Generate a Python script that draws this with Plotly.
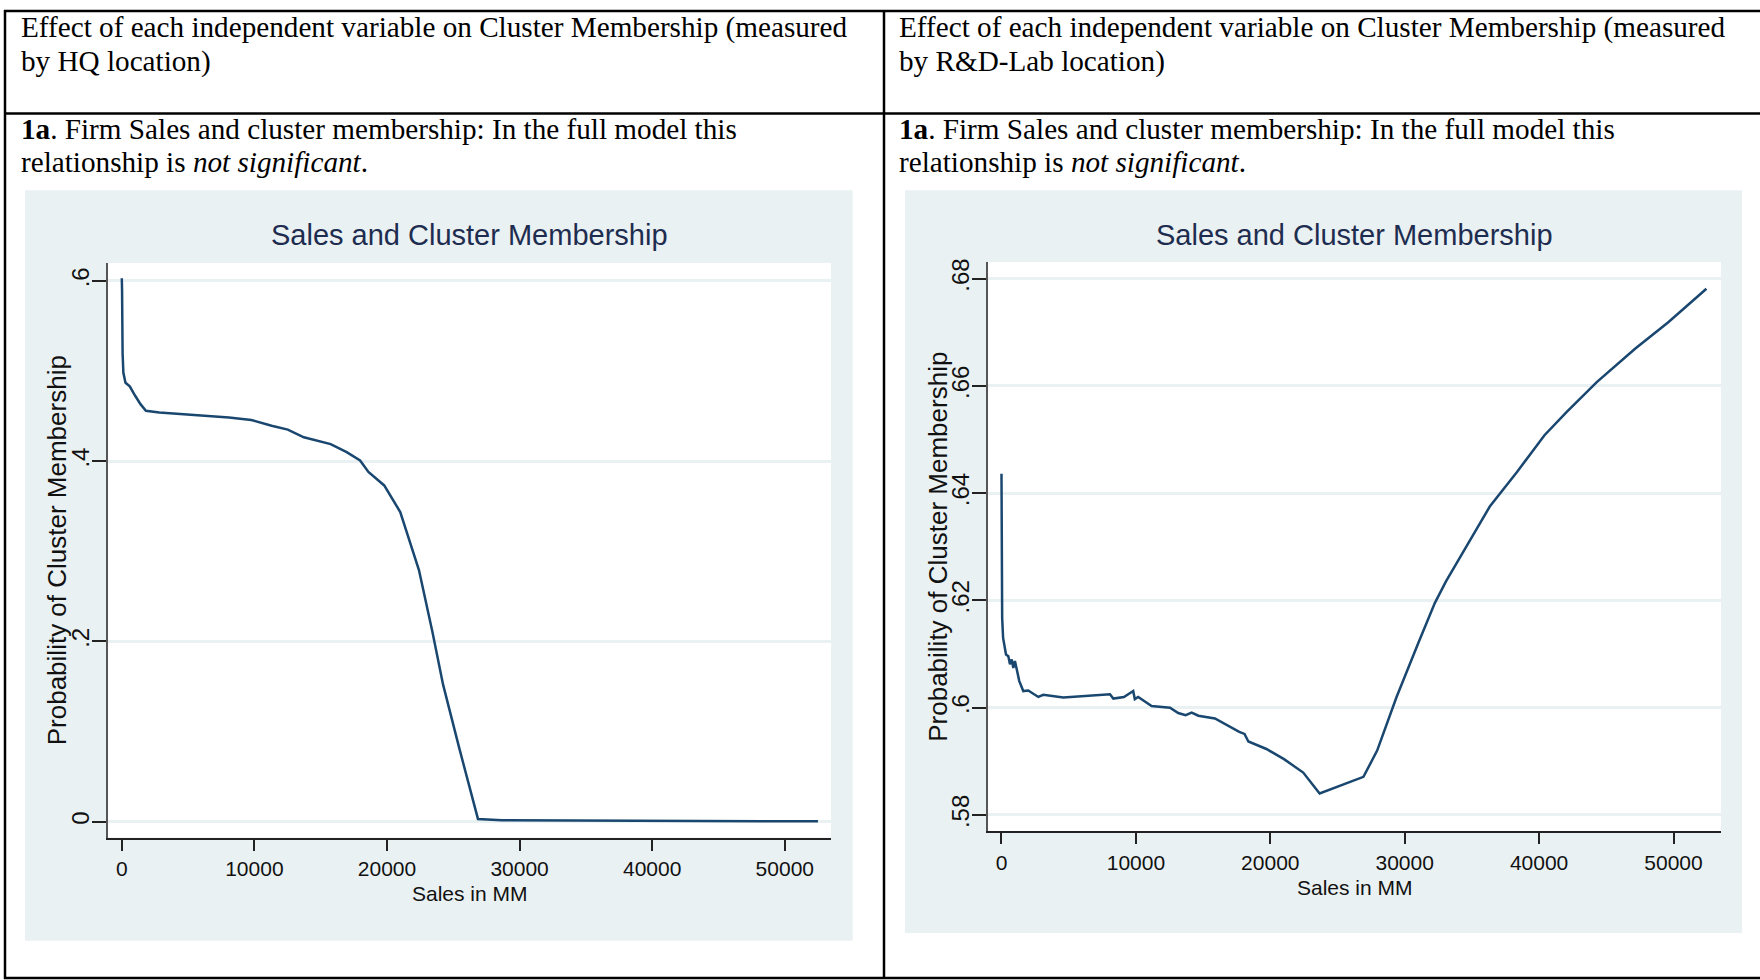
import plotly.graph_objects as go

# ---------------- data ----------------
hq_sales = [0, 20, 60, 120, 280, 600, 1010, 1410, 1820, 2830, 8080, 9770, 11300, 12520,
            13730, 15750, 16960, 17970, 18600, 19790, 21000, 22410, 23420, 24230, 25440,
            26860, 28670, 36740, 40500, 52500]
hq_prob = [0.603, 0.59, 0.52, 0.498, 0.487, 0.483, 0.4726, 0.4633, 0.456, 0.4541, 0.4486,
           0.4457, 0.4394, 0.435, 0.4265, 0.419, 0.41, 0.4008, 0.388, 0.3731, 0.3436, 0.2792,
           0.211, 0.152, 0.0821, 0.003, 0.0015, 0.0012, 0.0005, 0.0003]

rd_sales = [0, 20, 50, 120, 335, 510, 630, 760, 880, 1000, 1180, 1320, 1620, 1990, 2740,
            3110, 4600, 8070, 8320, 9110, 9800, 9920, 10170, 11170, 12540, 13150, 13700,
            14150, 14650, 15880, 17690, 18080, 18370, 19710, 21020, 22450, 23670, 26930,
            27950, 29380, 31020, 32240, 33060, 34490, 36330, 38370, 40400, 42040, 44290,
            47140, 49590, 52450]
rd_prob = [0.6436, 0.628, 0.6167, 0.613, 0.6099, 0.6096, 0.6081, 0.609, 0.6074, 0.6087,
           0.6068, 0.605, 0.6031, 0.6032, 0.602, 0.6024, 0.6019, 0.6025, 0.6017, 0.602,
           0.6031, 0.6016, 0.602, 0.6003, 0.6, 0.599, 0.5986, 0.5991, 0.5985, 0.598, 0.5955,
           0.5951, 0.5937, 0.5923, 0.5904, 0.5879, 0.584, 0.5871, 0.592, 0.6019, 0.6121,
           0.6195, 0.6235, 0.6297, 0.6375, 0.644, 0.6508, 0.6551, 0.6607, 0.6669, 0.6718,
           0.6781]

x_tickvals = [0, 10000, 20000, 30000, 40000, 50000]
x_ticktext = ["0", "10000", "20000", "30000", "40000", "50000"]
hq_yvals = [0, 0.2, 0.4, 0.6]
hq_ytext = ["0", ".2", ".4", ".6"]
rd_yvals = [0.58, 0.6, 0.62, 0.64, 0.66, 0.68]
rd_ytext = [".58", ".6", ".62", ".64", ".66", ".68"]

header_left = ["Effect of each independent variable on Cluster Membership (measured",
               "by HQ location)"]
header_right = ["Effect of each independent variable on Cluster Membership (measured",
                "by R&amp;D-Lab location)"]
note_lines = ["<b>1a</b>. Firm Sales and cluster membership: In the full model this",
              "relationship is <i>not significant</i>."]
chart_title = "Sales and Cluster Membership"
x_title = "Sales in MM"
y_title = "Probability of Cluster Membership"

# ---------------- layout helpers ----------------
W, H = 1760, 980
def px(x):
    return x / W
def py(y):
    return 1 - y / H

NAVY = "#1A476F"
PANEL_BG = "#EAF1F3"
GRID = "#EAF1F3"
SANS = "Liberation Sans, Arial, sans-serif"
SERIF = "Liberation Serif, Times New Roman, serif"

fig = go.Figure()
fig.add_trace(go.Scatter(x=hq_sales, y=hq_prob, mode="lines",
                         line=dict(color=NAVY, width=2.5), xaxis="x", yaxis="y",
                         showlegend=False, hoverinfo="skip"))
fig.add_trace(go.Scatter(x=rd_sales, y=rd_prob, mode="lines",
                         line=dict(color=NAVY, width=2.5), xaxis="x2", yaxis="y2",
                         showlegend=False, hoverinfo="skip"))

# plot-area boxes (pixel)
L = dict(x0=108, x1=831, y0=260, y1=837)
R = dict(x0=988, x1=1721, y0=259, y1=830.7)

def xaxis_cfg(box, rng):
    return dict(domain=[px(box["x0"]), px(box["x1"])], range=rng,
                tickvals=x_tickvals, ticktext=x_ticktext, ticks="outside", ticklen=11,
                tickwidth=1.5, tickcolor="#222", showline=True, linecolor="#222",
                linewidth=2, showgrid=False, zeroline=False,
                tickfont=dict(family=SANS, size=21, color="#111"), fixedrange=True)

def yaxis_cfg(box, rng, vals, text, anchor):
    return dict(domain=[py(box["y1"]), py(box["y0"])], range=rng, anchor=anchor,
                tickvals=vals, ticktext=text, ticks="outside", ticklen=14, tickwidth=1.5,
                tickcolor="#222", showline=True, linecolor="#555", linewidth=2,
                showgrid=True, gridcolor=GRID, gridwidth=3, zeroline=False,
                tickangle=-90, ticklabelstandoff=-7,
                tickfont=dict(family=SANS, size=24, color="#111"),
                fixedrange=True)

shapes = []
# panel backgrounds and white plot regions
for bg, box in ((dict(x0=25, x1=852.7, y0=187, y1=940.7), L),
                (dict(x0=905, x1=1742, y0=187, y1=932.7), R)):
    shapes.append(dict(type="rect", xref="paper", yref="paper", layer="below",
                       x0=px(bg["x0"]), x1=px(bg["x1"]), y0=py(bg["y1"]), y1=py(bg["y0"]),
                       fillcolor=PANEL_BG, line=dict(width=0)))
    shapes.append(dict(type="rect", xref="paper", yref="paper", layer="below",
                       x0=px(box["x0"]), x1=px(box["x1"]), y0=py(box["y1"]), y1=py(box["y0"]),
                       fillcolor="white", line=dict(width=0)))

# table lines
def hline(y, x0, x1):
    shapes.append(dict(type="line", xref="paper", yref="paper", x0=px(x0), x1=px(x1),
                       y0=py(y), y1=py(y), line=dict(color="black", width=2.5)))
def vline(x, y0, y1):
    shapes.append(dict(type="line", xref="paper", yref="paper", x0=px(x), x1=px(x),
                       y0=py(y0), y1=py(y1), line=dict(color="black", width=2.5)))
hline(7, 4, 1760)
hline(110, 4, 1760)
hline(978, 4, 1760)
vline(5, 6, 979)
vline(884, 6, 979)

annotations = []
def text(x, y, s, font, xanchor="left", yanchor="middle", angle=0):
    annotations.append(dict(x=px(x), y=py(y), xref="paper", yref="paper", text=s,
                            showarrow=False, xanchor=xanchor, yanchor=yanchor,
                            textangle=angle, font=font))

serif = dict(family=SERIF, size=29.2, color="black")
for i, s in enumerate(header_left):
    text(19, 24 + 34 * i, s, serif)
for i, s in enumerate(header_right):
    text(897, 24 + 34 * i, s, serif)
for x0 in (19, 897):
    for i, s in enumerate(note_lines):
        text(x0, 125.5 + 33.5 * i, s, serif)

title_font = dict(family=SANS, size=29, color="#1E2D4F")
axis_title_font = dict(family=SANS, size=21, color="#111")
ytitle_font = dict(family=SANS, size=26, color="#111")

text(469.5, 232, chart_title, title_font, xanchor="center")
text(1354.5, 232, chart_title, title_font, xanchor="center")
text(470, 893, x_title, axis_title_font, xanchor="center")
text(1355, 887, x_title, axis_title_font, xanchor="center")
text(57, 548.5, y_title, ytitle_font, xanchor="center", angle=-90)
text(938, 545, y_title, ytitle_font, xanchor="center", angle=-90)

fig.update_layout(
    width=W, height=H, margin=dict(l=0, r=0, t=0, b=0, pad=0),
    paper_bgcolor="white", plot_bgcolor="rgba(0,0,0,0)",
    xaxis=xaxis_cfg(L, [-1040, 53484]) | dict(anchor="y"),
    yaxis=yaxis_cfg(L, [-0.0177, 0.62], hq_yvals, hq_ytext, "x"),
    xaxis2=xaxis_cfg(R, [-1004, 53534]) | dict(anchor="y2"),
    yaxis2=yaxis_cfg(R, [0.57695, 0.6831], rd_yvals, rd_ytext, "x2"),
    shapes=shapes, annotations=annotations, showlegend=False,
)

fig.write_html("out.html", config={"displayModeBar": False},
               post_script="document.body.style.margin='0';document.body.style.overflow='hidden';")
